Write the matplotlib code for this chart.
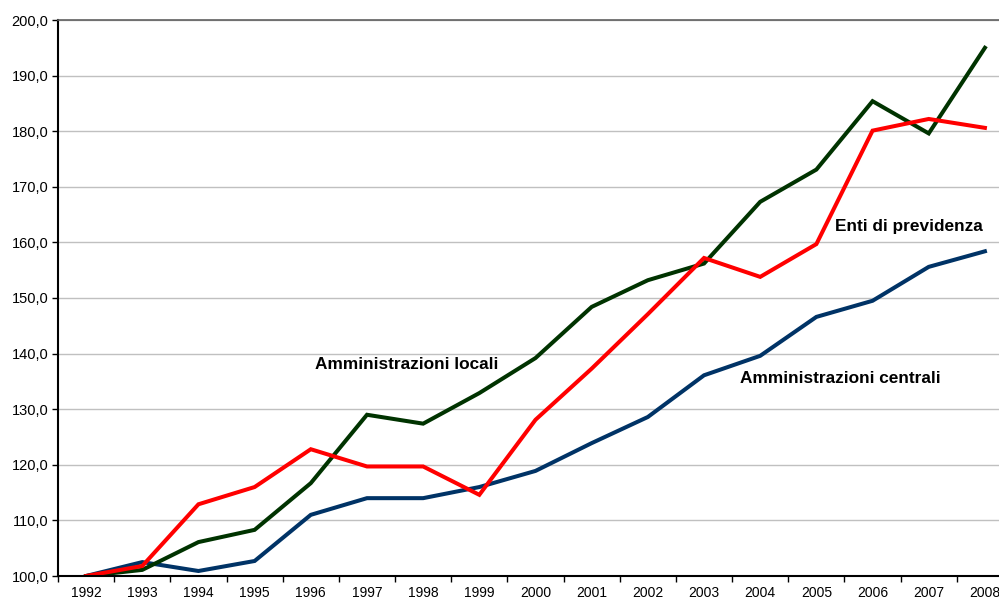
import matplotlib.pyplot as plt
from matplotlib.ticker import FuncFormatter, MultipleLocator

plt.rcParams['font.family'] = ['Liberation Sans', 'DejaVu Sans']

# dati (indice 1992 = 100)
years = list(range(1992, 2009))
locali = [100.0, 101.1, 106.1, 108.3, 116.7, 129.0, 127.4, 132.9, 139.2, 148.4,
          153.2, 156.2, 167.3, 173.1, 185.4, 179.6, 195.0]
previdenza = [100.0, 101.8, 112.9, 116.0, 122.8, 119.7, 119.7, 114.6, 128.1, 137.3,
              147.1, 157.2, 153.8, 159.7, 180.1, 182.2, 180.6]
centrali = [100.0, 102.5, 100.9, 102.7, 111.0, 114.0, 114.0, 116.0, 118.9, 123.9,
            128.6, 136.1, 139.6, 146.6, 149.5, 155.6, 158.4]

fig = plt.figure(figsize=(9.99, 6.0), dpi=100)
# l'area del grafico prosegue oltre il bordo destro (come nell'originale)
ax = fig.add_axes([58 / 999, 24 / 600, 955 / 999, 556 / 600])

ax.plot(years, centrali, color='#003366', lw=2.9, solid_joinstyle='miter')
ax.plot(years, locali, color='#003300', lw=2.9, solid_joinstyle='miter')
ax.plot(years, previdenza, color='#ff0000', lw=2.9, solid_joinstyle='miter')

ax.set_xlim(1991.5, 2008.5)
ax.set_ylim(100, 200)

ax.yaxis.set_major_locator(MultipleLocator(10))
ax.yaxis.set_major_formatter(FuncFormatter(lambda v, p: f"{v:.1f}".replace('.', ',')))
ax.set_xticks(years)
ax.set_xticklabels([str(y) for y in years])
ax.set_xticks([y + 0.5 for y in years[:-1]] + [1991.5], minor=True)

ax.tick_params(axis='x', which='major', length=0, pad=7, labelsize=10)
ax.tick_params(axis='x', which='minor', length=4, width=1, direction='out')
ax.tick_params(axis='y', length=4, width=1, direction='out', pad=3, labelsize=10.5)

ax.grid(axis='y', color='#c0c0c0', lw=1)
ax.set_axisbelow(True)
for s in ['left', 'bottom']:
    ax.spines[s].set_color('black')
    ax.spines[s].set_linewidth(1.5)
ax.spines['top'].set_color('#606060')
ax.spines['top'].set_linewidth(1.2)
ax.spines['right'].set_visible(False)

ax.text(1996.07, 138.1, "Amministrazioni locali", fontsize=12.4, fontweight='bold',
        ha='left', va='center')
ax.text(2005.34, 162.8, "Enti di previdenza", fontsize=12.4, fontweight='bold',
        ha='left', va='center')
ax.text(2003.64, 135.5, "Amministrazioni centrali", fontsize=12.4, fontweight='bold',
        ha='left', va='center')

fig.savefig("out.png", dpi=100)
